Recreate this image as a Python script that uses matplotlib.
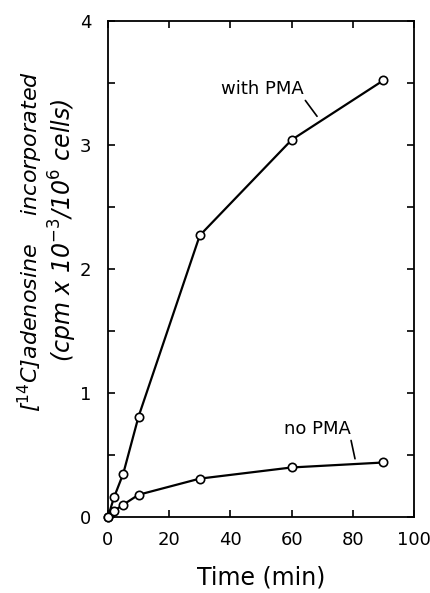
import matplotlib
matplotlib.use("Agg")
import matplotlib.pyplot as plt

time_min = [0, 2, 5, 10, 30, 60, 90]
with_pma = [0, 0.16, 0.35, 0.81, 2.27, 3.04, 3.52]
no_pma = [0, 0.05, 0.10, 0.18, 0.31, 0.40, 0.44]
x_ticks = [0, 20, 40, 60, 80, 100]
y_ticks = [0, 1, 2, 3, 4]

plt.rcParams['font.family'] = ['DejaVu Sans']
fig = plt.figure(figsize=(4.30, 5.93), dpi=100)
ax = fig.add_axes([0.251, 0.128, 0.712, 0.837])

for ys in (with_pma, no_pma):
    ax.plot(time_min, ys, color='black', lw=1.6, marker='o', ms=6,
            mfc='white', mec='black', mew=1.2, clip_on=False, zorder=3)

ax.set_xlim(0, 100)
ax.set_ylim(0, 4)
ax.set_xticks(x_ticks)
ax.set_yticks(y_ticks)
ax.set_yticks([0.5, 1.5, 2.5, 3.5], minor=True)
ax.tick_params(axis='both', which='both', direction='in', top=True, right=True,
               length=5, width=1.2, labelsize=13)
ax.tick_params(axis='y', pad=12)
ax.tick_params(axis='x', pad=10)
for s in ax.spines.values():
    s.set_linewidth(1.3)

ax.set_xlabel('Time (min)', fontsize=17, labelpad=12)

fig.text(30 / 430, 1 - 242 / 593, '[$^{14}$C]adenosine    incorporated',
         rotation=90, ha='center', va='center', fontsize=16, style='italic')
fig.text(63 / 430, 1 - 230 / 593, '(cpm x 10$^{-3}$/10$^{6}$ cells)',
         rotation=90, ha='center', va='center', fontsize=17, style='italic')

ax.annotate('with PMA', xy=(68.3, 3.23), xytext=(50.3, 3.38), fontsize=13,
            ha='center', va='bottom',
            arrowprops=dict(arrowstyle='-', color='black', lw=1.2,
                            shrinkA=0, shrinkB=0, relpos=(1.0, 0.0)))
ax.annotate('no PMA', xy=(80.7, 0.47), xytext=(68.3, 0.64), fontsize=13,
            ha='center', va='bottom',
            arrowprops=dict(arrowstyle='-', color='black', lw=1.2,
                            shrinkA=0, shrinkB=0, relpos=(1.0, 0.0)))

fig.savefig('out.png', dpi=100)
